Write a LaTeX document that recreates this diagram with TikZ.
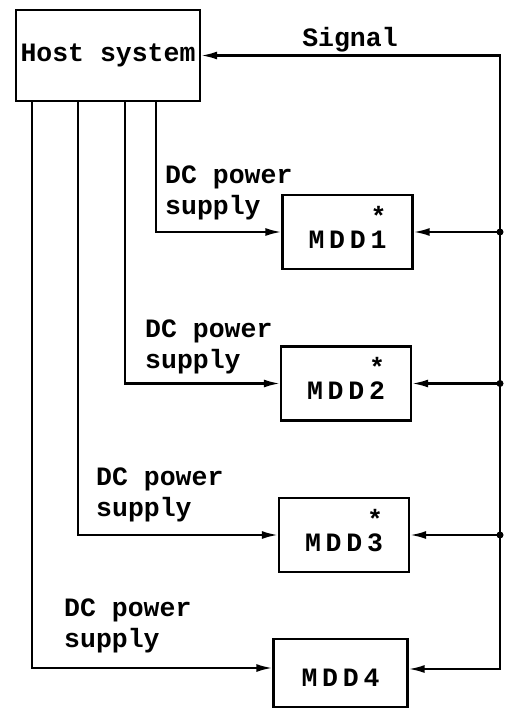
\documentclass[tikz,border=0pt]{standalone}
\usepackage{fontspec}
\setmainfont{Liberation Mono Bold}
\newfontfamily\mddfont[LetterSpace=18]{Liberation Mono Bold}
\usetikzlibrary{arrows.meta}

\tikzset{
  conn/.style={line width=2.2pt},
  unit/.style={draw, line width=2.2pt, inner sep=2pt},
  mdd/.style={unit, font=\fontsize{26.5pt}{31pt}\mddfont, minimum width=130pt,
    text height=51pt, text depth=19pt},
  note/.style={align=left, anchor=north west, inner sep=0pt},
  >={Latex[length=16pt,width=8pt]}
}

\begin{document}
\begin{tikzpicture}[x=1pt, y=-1pt, font=\fontsize{26.5pt}{31pt}\selectfont]
  \useasboundingbox (0,0) rectangle (508,708);
  % Host
  \node[unit, minimum width=184pt, minimum height=91pt] (host) at (108,55.5) {Host system};
  \node (signal) at (350,40) {Signal};
  % Drives
  \node[mdd] (mdd1) at (347.5,232) {MDD1\llap{\raisebox{23pt}{*}}};
  \node[mdd] (mdd2) at (346,383.5) {MDD2\llap{\raisebox{23pt}{*}}};
  \node[mdd] (mdd3) at (344,535) {MDD3\llap{\raisebox{23pt}{*}}};
  \node[mdd, text height=45pt, minimum width=134pt] (mdd4) at (340.5,673) {MDD4};
  % Signal bus
  \coordinate (bus) at (500,59);
  \coordinate (m4in) at ([yshift=4pt]mdd4.east);
  \draw[conn, <->] (host.east) -| (m4in -| bus) -- (m4in);
  \foreach \i in {1,2,3} {
    \draw[conn, ->] (mdd\i.east -| bus) -- (mdd\i.east);
    \fill (mdd\i.east -| bus) circle (3.5pt);
  }
  % DC power lines
  \draw[conn, ->] ([xshift=141pt]host.south west) |- (mdd1.west);
  \draw[conn, ->] ([xshift=110pt]host.south west) |- (mdd2.west);
  \draw[conn, ->] ([xshift=63pt]host.south west) |- (mdd3.west);
  \draw[conn, ->] ([xshift=17pt]host.south west) |- ([yshift=5pt]mdd4.west);
  \node[note] (dc1) at (165,166) {DC power\\supply};
  \node[note] (dc2) at (145,320) {DC power\\supply};
  \node[note] (dc3) at (96,468) {DC power\\supply};
  \node[note] (dc4) at (64,599) {DC power\\supply};
\end{tikzpicture}
\end{document}
